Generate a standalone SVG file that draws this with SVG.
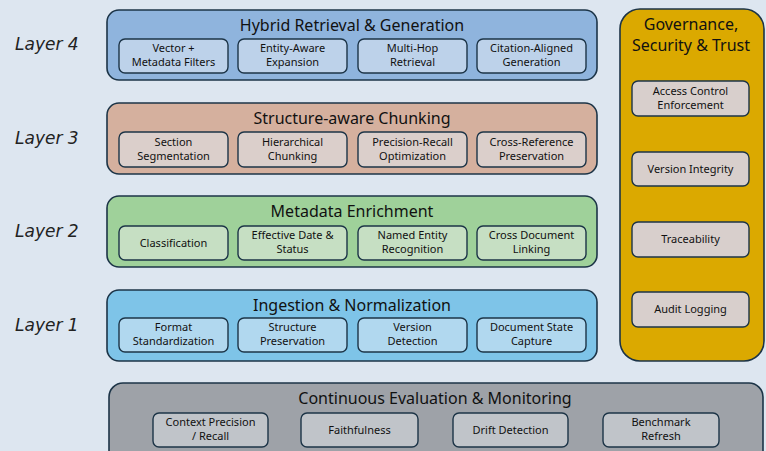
<svg xmlns="http://www.w3.org/2000/svg" width="766" height="451" viewBox="0 0 766 451">
<style>
.t{font-family:"Noto Sans","Open Sans",sans-serif;fill:#111;text-anchor:middle}
.ttl{font-size:16px}
.s{font-size:11px}
.lay{font-family:"DejaVu Sans",sans-serif;font-size:17px;fill:#222;font-weight:300;font-style:italic}
.pan{stroke:#1c3447;stroke-width:1.6}
.sb{stroke:#1c3447;stroke-width:1.4}
</style>
<rect width="766" height="451" fill="#dde6f0"/>
<g id="labels">
<text class="lay" x="15" y="50">Layer 4</text>
<text class="lay" x="15" y="144">Layer 3</text>
<text class="lay" x="15" y="237">Layer 2</text>
<text class="lay" x="15" y="331">Layer 1</text>
</g>
<g id="layer4">
<rect class="pan" x="107" y="10" width="490" height="70" rx="12" fill="#8fb4dd"/>
<text class="t ttl" x="352" y="31">Hybrid Retrieval &amp; Generation</text>
<rect class="sb" x="119" y="39" width="109" height="34" rx="6" fill="#bdd2ea"/>
<text class="t s" x="173.5" y="52">Vector +</text><text class="t s" x="173.5" y="66">Metadata Filters</text>
<rect class="sb" x="238" y="39" width="109" height="34" rx="6" fill="#bdd2ea"/>
<text class="t s" x="292.5" y="52">Entity-Aware</text><text class="t s" x="292.5" y="66">Expansion</text>
<rect class="sb" x="358" y="39" width="109" height="34" rx="6" fill="#bdd2ea"/>
<text class="t s" x="412.5" y="52">Multi-Hop</text><text class="t s" x="412.5" y="66">Retrieval</text>
<rect class="sb" x="477" y="39" width="109" height="34" rx="6" fill="#bdd2ea"/>
<text class="t s" x="531.5" y="52">Citation-Aligned</text><text class="t s" x="531.5" y="66">Generation</text>
</g>
<g id="layer3">
<rect class="pan" x="107" y="103" width="490" height="71" rx="12" fill="#d5b09e"/>
<text class="t ttl" x="352" y="124">Structure-aware Chunking</text>
<rect class="sb" x="119" y="132" width="109" height="35" rx="6" fill="#dbcfcb"/>
<text class="t s" x="173.5" y="146">Section</text><text class="t s" x="173.5" y="160">Segmentation</text>
<rect class="sb" x="238" y="132" width="109" height="35" rx="6" fill="#dbcfcb"/>
<text class="t s" x="292.5" y="146">Hierarchical</text><text class="t s" x="292.5" y="160">Chunking</text>
<rect class="sb" x="358" y="132" width="109" height="35" rx="6" fill="#dbcfcb"/>
<text class="t s" x="412.5" y="146">Precision-Recall</text><text class="t s" x="412.5" y="160">Optimization</text>
<rect class="sb" x="477" y="132" width="109" height="35" rx="6" fill="#dbcfcb"/>
<text class="t s" x="531.5" y="146">Cross-Reference</text><text class="t s" x="531.5" y="160">Preservation</text>
</g>
<g id="layer2">
<rect class="pan" x="107" y="196" width="490" height="71" rx="12" fill="#9fd19a"/>
<text class="t ttl" x="352" y="217">Metadata Enrichment</text>
<rect class="sb" x="119" y="226" width="109" height="34" rx="6" fill="#c6dfc3"/>
<text class="t s" x="173.5" y="247">Classification</text>
<rect class="sb" x="238" y="226" width="109" height="34" rx="6" fill="#c6dfc3"/>
<text class="t s" x="292.5" y="239">Effective Date &amp;</text><text class="t s" x="292.5" y="253">Status</text>
<rect class="sb" x="358" y="226" width="109" height="34" rx="6" fill="#c6dfc3"/>
<text class="t s" x="412.5" y="239">Named Entity</text><text class="t s" x="412.5" y="253">Recognition</text>
<rect class="sb" x="477" y="226" width="109" height="34" rx="6" fill="#c6dfc3"/>
<text class="t s" x="531.5" y="239">Cross Document</text><text class="t s" x="531.5" y="253">Linking</text>
</g>
<g id="layer1">
<rect class="pan" x="107" y="290" width="490" height="71" rx="12" fill="#7ec4e8"/>
<text class="t ttl" x="352" y="311">Ingestion &amp; Normalization</text>
<rect class="sb" x="119" y="318" width="109" height="34" rx="6" fill="#b1d8ef"/>
<text class="t s" x="173.5" y="331">Format</text><text class="t s" x="173.5" y="345">Standardization</text>
<rect class="sb" x="238" y="318" width="109" height="34" rx="6" fill="#b1d8ef"/>
<text class="t s" x="292.5" y="331">Structure</text><text class="t s" x="292.5" y="345">Preservation</text>
<rect class="sb" x="358" y="318" width="109" height="34" rx="6" fill="#b1d8ef"/>
<text class="t s" x="412.5" y="331">Version</text><text class="t s" x="412.5" y="345">Detection</text>
<rect class="sb" x="477" y="318" width="109" height="34" rx="6" fill="#b1d8ef"/>
<text class="t s" x="531.5" y="331">Document State</text><text class="t s" x="531.5" y="345">Capture</text>
</g>
<g id="governance">
<rect class="pan" x="620" y="9" width="144" height="352" rx="20" fill="#dba900"/>
<text class="t ttl" x="691" y="30">Governance,</text>
<text class="t ttl" x="691" y="51">Security &amp; Trust</text>
<rect class="sb" x="632" y="81" width="117" height="35" rx="6" fill="#d8cfcc"/>
<text class="t s" x="690.5" y="95">Access Control</text><text class="t s" x="690.5" y="109">Enforcement</text>
<rect class="sb" x="632" y="152" width="117" height="34" rx="6" fill="#d8cfcc"/>
<text class="t s" x="690.5" y="173">Version Integrity</text>
<rect class="sb" x="632" y="222" width="117" height="35" rx="6" fill="#d8cfcc"/>
<text class="t s" x="690.5" y="243">Traceability</text>
<rect class="sb" x="632" y="292" width="117" height="35" rx="6" fill="#d8cfcc"/>
<text class="t s" x="690.5" y="313">Audit Logging</text>
</g>
<g id="evaluation">
<rect class="pan" x="109" y="383" width="654" height="90" rx="14" fill="#9ea2a8"/>
<text class="t ttl" x="435" y="404">Continuous Evaluation &amp; Monitoring</text>
<rect class="sb" x="153" y="413" width="115" height="34" rx="6" fill="#c0c4c9"/>
<text class="t s" x="210.5" y="426">Context Precision</text><text class="t s" x="210.5" y="440">/ Recall</text>
<rect class="sb" x="301" y="413" width="117" height="34" rx="6" fill="#c0c4c9"/>
<text class="t s" x="359.5" y="434">Faithfulness</text>
<rect class="sb" x="453" y="413" width="115" height="34" rx="6" fill="#c0c4c9"/>
<text class="t s" x="510.5" y="434">Drift Detection</text>
<rect class="sb" x="603" y="413" width="116" height="34" rx="6" fill="#c0c4c9"/>
<text class="t s" x="661" y="426">Benchmark</text><text class="t s" x="661" y="440">Refresh</text>
</g>
<g id="connectors"></g>
</svg>
